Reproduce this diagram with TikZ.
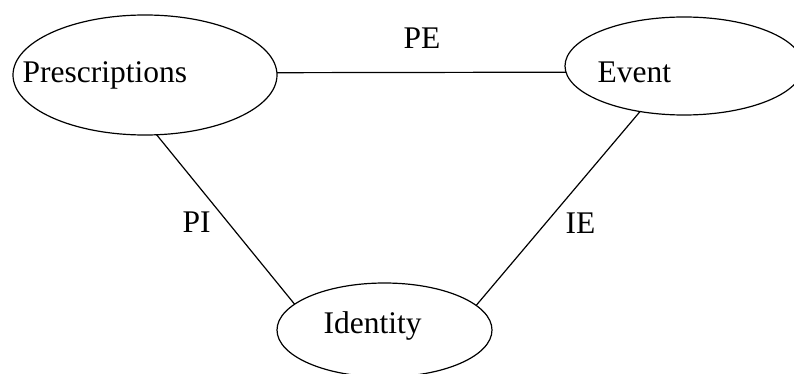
\documentclass[tikz,border=0pt]{standalone}
\usepackage{fontspec}
\setmainfont{Liberation Serif}
\usetikzlibrary{shapes.geometric}

\begin{document}
\begin{tikzpicture}
            [x=1pt,y=-1pt,line width=1.2pt,
             every node/.style={inner sep=0pt,font=\fontsize{31.5}{36}\selectfont},
             oval/.style={ellipse,draw,outer sep=0pt},
             word/.style={anchor=base west}]
            \useasboundingbox (0,0) rectangle (794,374);
            \node[oval,minimum width=264pt,minimum height=120pt] (pres) at (145,75) {};
            \node[oval,minimum width=238pt,minimum height=98pt] (event) at (684,66) {};
            \node[oval,minimum width=215pt,minimum height=94pt] (iden) at (384.5,330) {};
            \node[word] (tpres) at (22,83) {Prescriptions};
            \node[word] (tevent) at (597,83) {Event};
            \node[word] (tiden) at (323,333) {Identity};
            \node[word] (pe) at (403,49) {PE};
            \node[word] (pi) at (182,232) {PI};
            \node[word] (ie) at (565,233) {IE};
            \foreach \from/\to in {pres.1/event.183,pres.-79/iden.164,event.226/iden.15}
            \draw (\from) -- (\to);
        \end{tikzpicture}
\end{document}
